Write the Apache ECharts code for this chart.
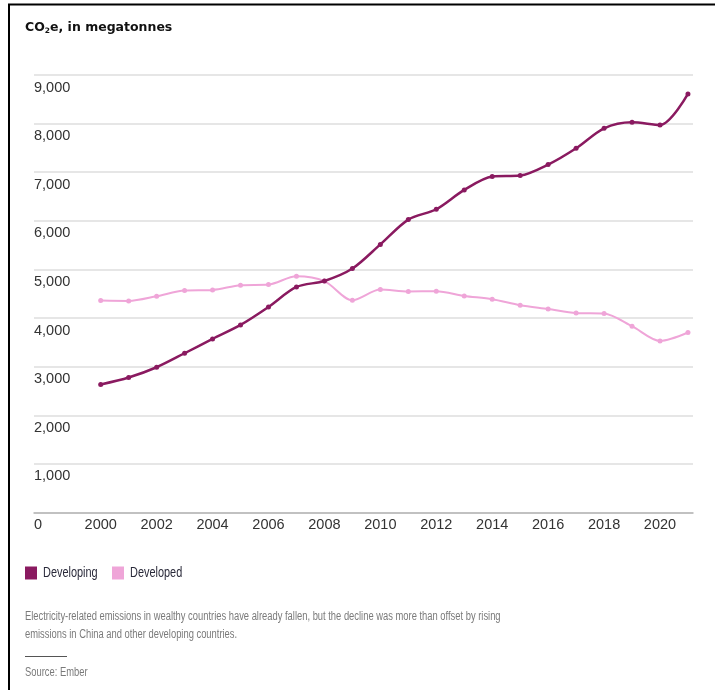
<!DOCTYPE html>
<html>
<head>
<meta charset="utf-8">
<script src="https://cdn.jsdelivr.net/npm/echarts@6/dist/echarts.min.js"></script>
<style>
html,body{margin:0;padding:0;background:#fff;}
#chart{width:715px;height:690px;}
</style>
</head>
<body>
<div id="chart"></div>
<script>
// ---- data ----
const years = [2000,2001,2002,2003,2004,2005,2006,2007,2008,2009,2010,2011,2012,2013,2014,2015,2016,2017,2018,2019,2020,2021];
const developing = [2633,2777,2988,3276,3571,3859,4229,4640,4763,5018,5515,6026,6238,6636,6911,6931,7157,7493,7904,8028,7972,8610];
const developed  = [4360,4352,4449,4566,4578,4675,4689,4860,4760,4367,4587,4548,4552,4455,4387,4264,4188,4106,4093,3832,3529,3702];
const xTickLabels = [2000,2002,2004,2006,2008,2010,2012,2014,2016,2018,2020];
const yTicks = [0,1000,2000,3000,4000,5000,6000,7000,8000,9000];
const seriesNames = ['Developing','Developed'];
const titleText = 'in megatonnes';
const noteLines = [
  'Electricity-related emissions in wealthy countries have already fallen, but the decline was more than offset by rising',
  'emissions in China and other developing countries.'
];
const sourceText = 'Source: Ember';

const COL_DEV = '#8a1a60';
const COL_DEVD = '#efa5d8';
const FONT = '"Liberation Sans", Arial, sans-serif';
const NARROW_SCALE = 0.75;

const chart = echarts.init(document.getElementById('chart'), null, {renderer:'canvas'});

const option = {
  backgroundColor: '#fff',
  animation: false,
  grid: { left: 34, right: 22, top: 75, bottom: 177.5, containLabel: false },
  legend: {
    left: 20, top: 561.5,
    icon: 'rect', itemWidth: 12, itemHeight: 13, itemGap: 75,
    formatter: () => '',
    textStyle: { fontSize: 1 },
    data: seriesNames
  },
  xAxis: {
    type: 'value',
    min: 1997.615, max: 2021.18,
    axisLine: { show: true, lineStyle: { color: '#b5b5b5', width: 1.5 } },
    axisTick: { show: false },
    splitLine: { show: false },
    axisLabel: {
      customValues: xTickLabels,
      formatter: v => String(v),
      fontFamily: FONT, fontSize: 14.5, color: '#333', margin: 5
    }
  },
  yAxis: {
    type: 'value',
    min: yTicks[0], max: yTicks[yTicks.length-1], interval: 1000,
    axisLine: { show: false },
    axisTick: { show: false },
    splitLine: { show: true, lineStyle: { color: '#dedede', width: 1.5 } },
    axisLabel: {
      inside: true, margin: 0,
      verticalAlign: 'top', padding: [5,0,0,0],
      formatter: v => v === 0 ? '0' : v.toLocaleString('en-US'),
      fontFamily: FONT, fontSize: 14.5, color: '#333'
    }
  },
  series: [
    {
      name: seriesNames[0], type: 'line',
      data: years.map((y,i)=>[y, developing[i]]),
      smooth: 0.3, symbol: 'circle', symbolSize: 5, showSymbol: true,
      itemStyle: { color: COL_DEV },
      lineStyle: { color: COL_DEV, width: 2.5 },
      z: 3
    },
    {
      name: seriesNames[1], type: 'line',
      data: years.map((y,i)=>[y, developed[i]]),
      smooth: 0.3, symbol: 'circle', symbolSize: 5, showSymbol: true,
      itemStyle: { color: COL_DEVD },
      lineStyle: { color: COL_DEVD, width: 2 },
      z: 2
    }
  ],
  graphic: [
    { type: 'rect', shape: { x: 9, y: 4.5, width: 800, height: 800 },
      style: { fill: 'none', stroke: '#000', lineWidth: 2 }, silent: true },
    { type: 'text', x: 25, y: 27.5,
      style: {
        text: '{b|CO}{s|2}{b|e, ' + titleText + '}',
        verticalAlign: 'middle',
        rich: {
          b: { fontFamily: '"DejaVu Sans", sans-serif', fontWeight: 'bold', fontSize: 12.5, fill: '#111' },
          s: { fontFamily: '"DejaVu Sans", sans-serif', fontWeight: 'bold', fontSize: 7.5, fill: '#111', padding: [8,0,0,0] }
        }
      } },
    { type: 'text', x: 43, y: 573, scaleX: 0.78,
      style: { text: seriesNames[0], fontFamily: FONT, fontSize: 14, fill: '#2a2a3a', verticalAlign: 'middle' } },
    { type: 'text', x: 130, y: 573, scaleX: 0.78,
      style: { text: seriesNames[1], fontFamily: FONT, fontSize: 14, fill: '#2a2a3a', verticalAlign: 'middle' } },
    { type: 'text', x: 25, y: 616.5, scaleX: NARROW_SCALE,
      style: { text: noteLines[0], fontFamily: FONT, fontSize: 12.5, fill: '#7a7a7a', verticalAlign: 'middle' } },
    { type: 'text', x: 25, y: 634.5, scaleX: NARROW_SCALE,
      style: { text: noteLines[1], fontFamily: FONT, fontSize: 12.5, fill: '#7a7a7a', verticalAlign: 'middle' } },
    { type: 'line', shape: { x1: 25, y1: 656.5, x2: 67, y2: 656.5 },
      style: { stroke: '#555', lineWidth: 1.2 } },
    { type: 'text', x: 25, y: 673, scaleX: NARROW_SCALE,
      style: { text: sourceText, fontFamily: FONT, fontSize: 12.5, fill: '#7a7a7a', verticalAlign: 'middle' } }
  ]
};
chart.setOption(option);
</script>
</body>
</html>
